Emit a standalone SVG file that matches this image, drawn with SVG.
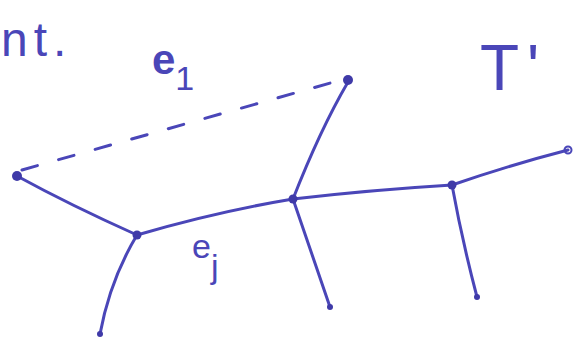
<svg xmlns="http://www.w3.org/2000/svg" width="575" height="340" viewBox="0 0 575 340">
<style>
.e{fill:none;stroke:#4a46b8;stroke-width:3;stroke-linecap:round}
.d{stroke-dasharray:16 22}
.n{fill:#3f3aa8}
.t{fill:#4a46b8;font-family:"Liberation Sans",sans-serif}
</style>
<rect width="575" height="340" fill="#fff"/>
<g id="connectors">
<path class="e d" d="M22 170 L348 78"/>
<path class="e" d="M17 176 Q70 205 137 235"/>
<path class="e" d="M137 235 Q215 212 293 199"/>
<path class="e" d="M293 199 Q370 190 452 185"/>
<path class="e" d="M452 185 Q510 165 568 150"/>
<path class="e" d="M293 199 Q320 130 348 82"/>
<path class="e" d="M137 235 Q110 280 100 334"/>
<path class="e" d="M293 199 Q312 255 330 307"/>
<path class="e" d="M452 185 Q462 240 477 297"/>
</g>
<g id="nA"><circle class="n" cx="17" cy="176" r="5"/></g>
<g id="nB"><circle class="n" cx="137" cy="235" r="4.5"/></g>
<g id="nC"><circle class="n" cx="293" cy="199" r="4.5"/></g>
<g id="nD"><circle class="n" cx="452" cy="185" r="4.5"/></g>
<g id="nE"><circle cx="568" cy="150" r="3.5" fill="none" stroke="#4a46b8" stroke-width="2"/></g>
<g id="nF"><circle class="n" cx="348" cy="80" r="5"/></g>
<g id="nL1"><circle class="n" cx="100" cy="334" r="3"/></g>
<g id="nL2"><circle class="n" cx="330" cy="307" r="3"/></g>
<g id="nL3"><circle class="n" cx="477" cy="297" r="3"/></g>
<g id="labels">
<text class="t" x="1" y="56" font-size="48" letter-spacing="6">nt.</text>
<text class="t" x="152" y="74" font-size="42" font-weight="bold">e<tspan font-size="34" font-weight="normal" dy="16">1</tspan></text>
<text class="t" x="480" y="90" font-size="64">T<tspan dx="8">'</tspan></text>
<text class="t" x="192" y="258" font-size="34">e<tspan font-size="34" dy="20">j</tspan></text>
</g>
</svg>
